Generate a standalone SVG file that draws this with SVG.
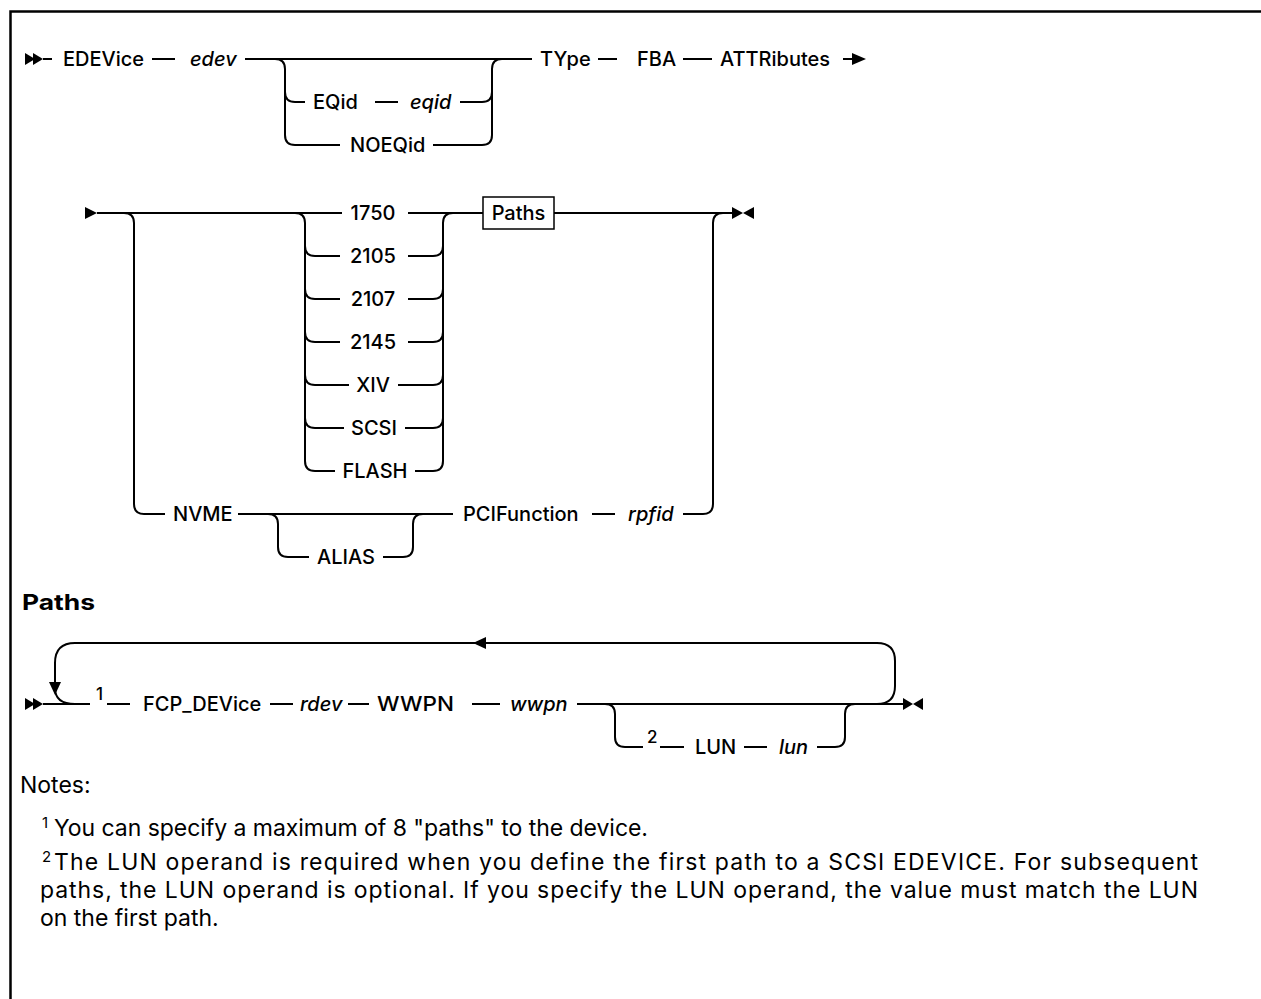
<svg xmlns="http://www.w3.org/2000/svg" width="1261" height="999" viewBox="0 0 1261 999">
<style>
.l{fill:none;stroke:#000;stroke-width:2}
.b{fill:none;stroke:#000;stroke-width:2.5}
.a{fill:#000;stroke:none}
.t{font-family:Inter,"Noto Sans",sans-serif;font-size:20px;font-weight:500;fill:#000}
.i{font-style:italic}
.c{text-anchor:middle}
.s{font-family:Inter,"Noto Sans",sans-serif;font-size:17px;font-weight:500;fill:#000}
.h{font-family:Inter,"Noto Sans",sans-serif;font-size:22px;font-weight:700;fill:#000}
.n{font-family:Inter,"Noto Sans",sans-serif;font-size:23px;font-weight:400;fill:#000}
.ns{font-family:Inter,"Noto Sans",sans-serif;font-size:15px;font-weight:400;fill:#000}
</style>
<rect width="1261" height="999" fill="#fff"/>
<path class="b" d="M10.5 999 V11.5 H1261"/>

<g id="connectors">
<!-- row 1 -->
<path class="l" d="M43 59 H52"/>
<path class="l" d="M152 59 H175"/>
<path class="l" d="M245 59 H532"/>
<path class="l" d="M275 59 Q285 59 285 69 V92 Q285 102 295 102 H305"/>
<path class="l" d="M285 92 V135 Q285 145 295 145 H340"/>
<path class="l" d="M375 102 H398"/>
<path class="l" d="M460 102 H482 Q492 102 492 92 V69 Q492 59 502 59"/>
<path class="l" d="M433 145 H482 Q492 145 492 135 V92"/>
<path class="l" d="M598 59 H617"/>
<path class="l" d="M683 59 H712"/>
<path class="l" d="M843 59 H856"/>
<!-- row 2 -->
<path class="l" d="M97 213 H342"/>
<path class="l" d="M124 213 Q134 213 134 223 V504 Q134 514 144 514 H165"/>
<path class="l" d="M295 213 Q305 213 305 223 V461 Q305 471 315 471 H335"/>
<path class="l" d="M305 246 Q305 256 315 256 H340"/>
<path class="l" d="M305 289 Q305 299 315 299 H340"/>
<path class="l" d="M305 332 Q305 342 315 342 H340"/>
<path class="l" d="M305 375 Q305 385 315 385 H349"/>
<path class="l" d="M305 418 Q305 428 315 428 H344"/>
<path class="l" d="M408 213 H483"/>
<path class="l" d="M443 461 V223 Q443 213 453 213"/>
<path class="l" d="M408 256 H433 Q443 256 443 246"/>
<path class="l" d="M408 299 H433 Q443 299 443 289"/>
<path class="l" d="M408 342 H433 Q443 342 443 332"/>
<path class="l" d="M398 385 H433 Q443 385 443 375"/>
<path class="l" d="M405 428 H433 Q443 428 443 418"/>
<path class="l" d="M415 471 H433 Q443 471 443 461"/>
<path class="l" d="M554 213 H733"/>
<path class="l" d="M683 514 H703 Q713 514 713 504 V223 Q713 213 723 213"/>
<!-- NVME row -->
<path class="l" d="M238 514 H453"/>
<path class="l" d="M268 514 Q278 514 278 524 V547 Q278 557 288 557 H309"/>
<path class="l" d="M383 557 H403 Q413 557 413 547 V524 Q413 514 423 514"/>
<path class="l" d="M592 514 H615"/>
<!-- Paths row -->
<path class="l" d="M43 704 H90"/>
<path class="l" d="M107 704 H130"/>
<path class="l" d="M877 643 H75 Q55 643 55 663 V688 Q55 704 75 704"/>
<path class="l" d="M877 643 Q895 643 895 661 V686 Q895 704 877 704"/>
<path class="l" d="M270 704 H293"/>
<path class="l" d="M348 704 H369"/>
<path class="l" d="M472 704 H500"/>
<path class="l" d="M577 704 H903"/>
<path class="l" d="M605 704 Q615 704 615 714 V737 Q615 747 625 747 H643"/>
<path class="l" d="M660 747 H684"/>
<path class="l" d="M744 747 H767"/>
<path class="l" d="M817 747 H835 Q845 747 845 737 V714 Q845 704 855 704"/>
<!-- arrows -->
<polygon class="a" points="25,53 35,59 25,65"/>
<polygon class="a" points="33,53 43,59 33,65"/>
<polygon class="a" points="852,53 866,59 852,65"/>
<polygon class="a" points="85,207 97,213 85,219"/>
<polygon class="a" points="732,207 743,213 732,219"/>
<polygon class="a" points="754,207 743,213 754,219"/>
<polygon class="a" points="25,698 35,704 25,710"/>
<polygon class="a" points="33,698 43,704 33,710"/>
<polygon class="a" points="49,682 61,682 55,695"/>
<polygon class="a" points="473,643 486,637 486,649"/>
<polygon class="a" points="903,698 913,704 903,710"/>
<polygon class="a" points="923,698 913,704 923,710"/>
</g>

<g id="row1">
<text class="t" x="63" y="66">EDEVice</text>
<text class="t i" x="190" y="66">edev</text>
<text class="t" x="540" y="66">TYpe</text>
<text class="t" x="637" y="66">FBA</text>
<text class="t" x="720" y="66">ATTRibutes</text>
</g>
<g id="eqid-branch">
<text class="t" x="313" y="109">EQid</text>
<text class="t i" x="410" y="109">eqid</text>
<text class="t" x="350" y="152">NOEQid</text>
</g>
<g id="type-stack">
<text class="t c" x="373" y="220">1750</text>
<text class="t c" x="373" y="263">2105</text>
<text class="t c" x="373" y="306">2107</text>
<text class="t c" x="373" y="349">2145</text>
<text class="t c" x="373" y="392">XIV</text>
<text class="t c" x="374" y="435">SCSI</text>
<text class="t c" x="375" y="478">FLASH</text>
</g>
<g id="paths-ref">
<rect x="483" y="197" width="71" height="32" fill="#fff" stroke="#000" stroke-width="1.5"/>
<text class="t c" x="518.5" y="220">Paths</text>
</g>
<g id="nvme">
<text class="t" x="173" y="521">NVME</text>
<text class="t" x="317" y="564">ALIAS</text>
<text class="t" x="463" y="521">PCIFunction</text>
<text class="t i" x="628" y="521">rpfid</text>
</g>
<g id="paths-heading">
<text class="h" x="22" y="610" textLength="73" lengthAdjust="spacingAndGlyphs">Paths</text>
</g>
<g id="paths-row">
<text class="s" x="96" y="700">1</text>
<text class="t" x="143" y="711">FCP_DEVice</text>
<text class="t i" x="300" y="711">rdev</text>
<text class="t" x="377" y="711" textLength="77" lengthAdjust="spacingAndGlyphs">WWPN</text>
<text class="t i" x="510" y="711">wwpn</text>
<text class="s" x="647" y="743">2</text>
<text class="t" x="695" y="754">LUN</text>
<text class="t i" x="779" y="754">lun</text>
</g>
<g id="notes">
<text class="n" x="20" y="793">Notes:</text>
<text class="ns" x="42" y="828">1</text>
<text class="n" x="54" y="836" textLength="594" lengthAdjust="spacing">You can specify a maximum of 8 "paths" to the device.</text>
<text class="ns" x="42" y="862">2</text>
<text class="n" x="54" y="870" textLength="1144" lengthAdjust="spacing">The LUN operand is required when you define the first path to a SCSI EDEVICE. For subsequent</text>
<text class="n" x="40" y="898" textLength="1158" lengthAdjust="spacing">paths, the LUN operand is optional. If you specify the LUN operand, the value must match the LUN</text>
<text class="n" x="40" y="926">on the first path.</text>
</g>
</svg>
